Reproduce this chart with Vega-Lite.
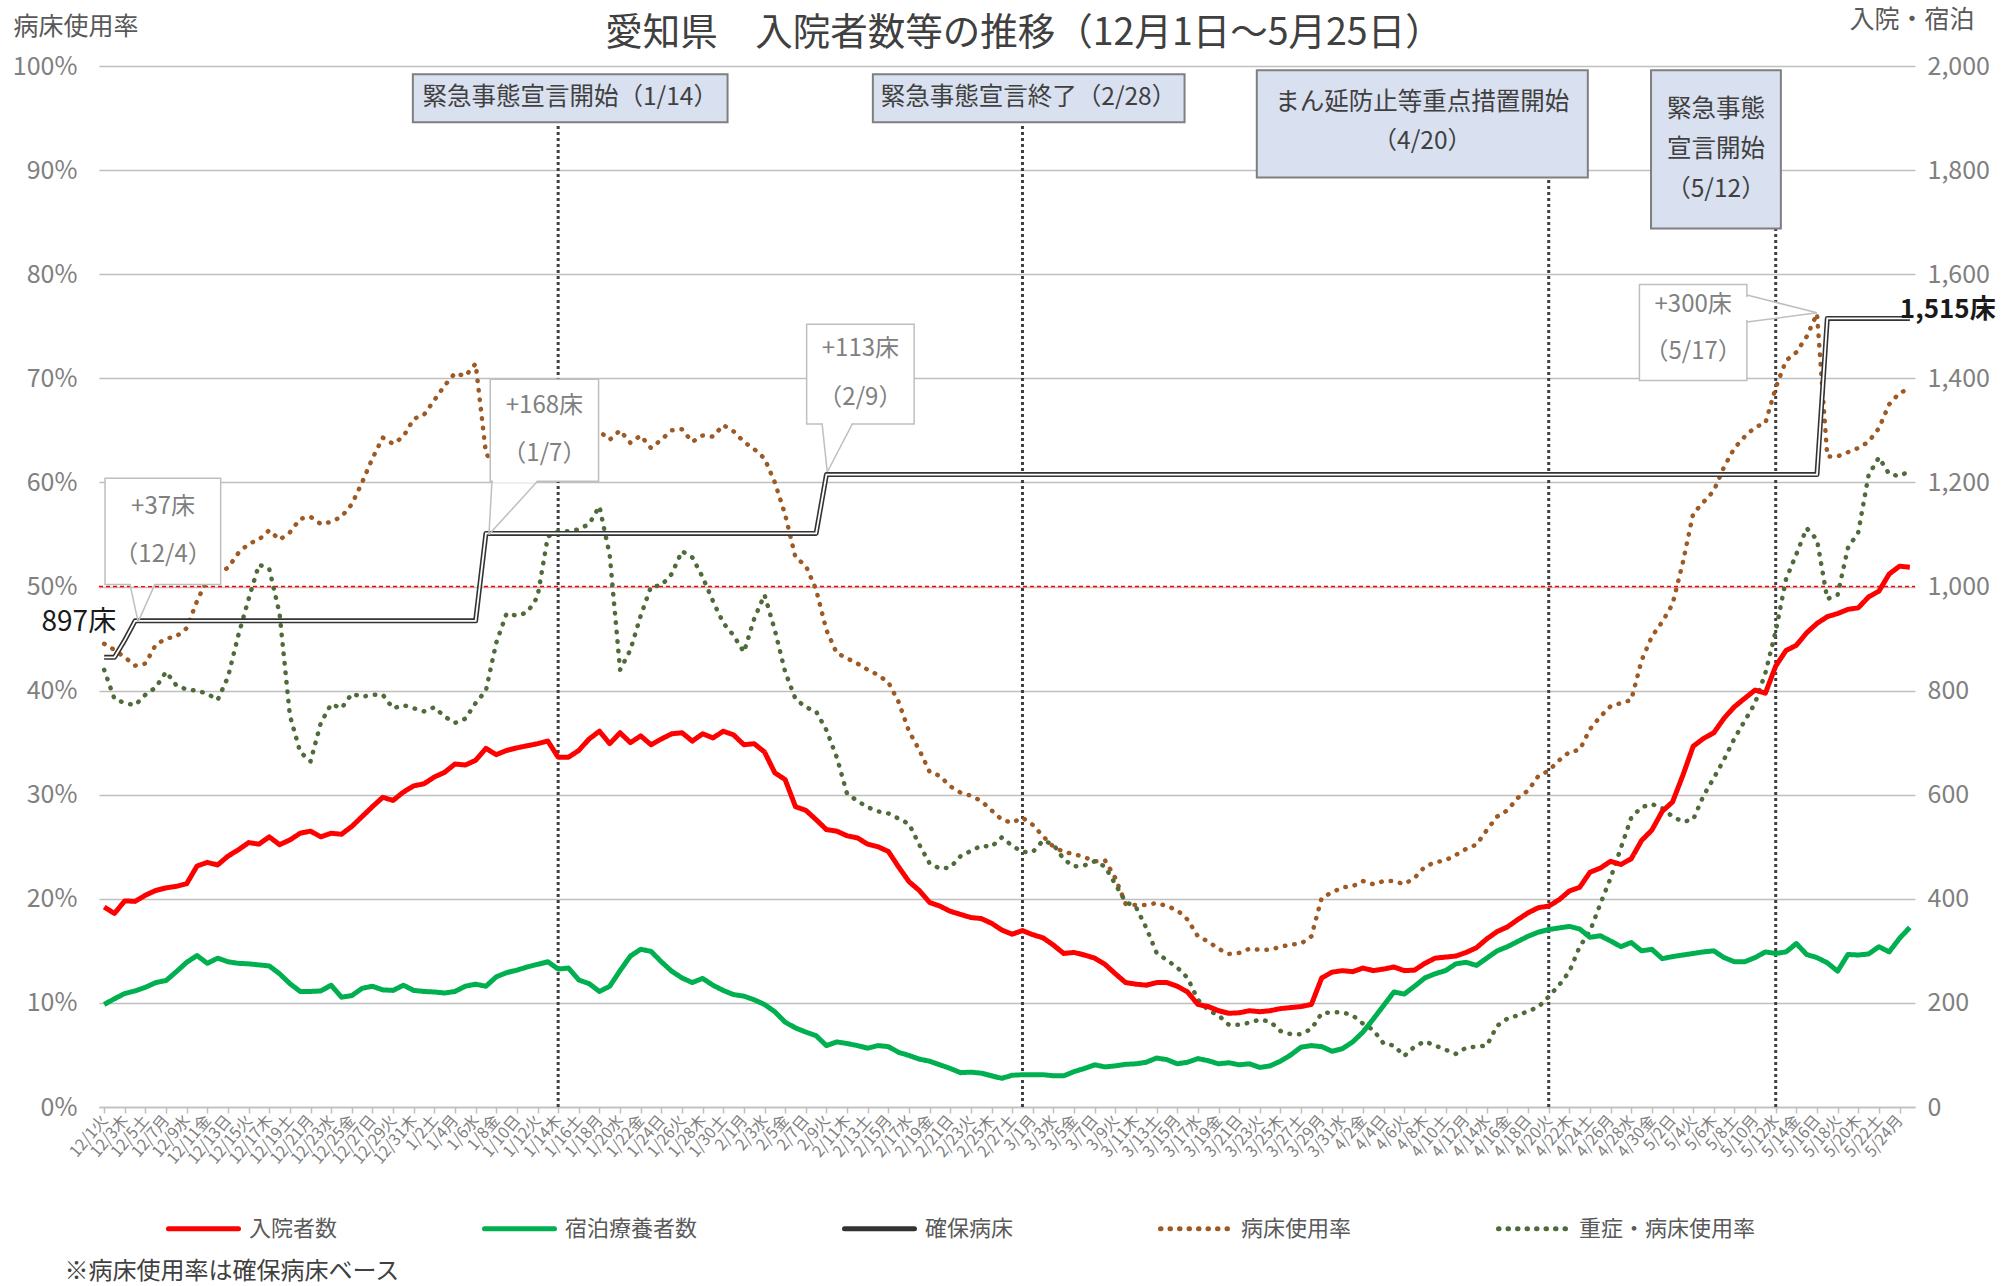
{
"$schema": "https://vega.github.io/schema/vega-lite/v6.json",
"width": 1816, "height": 1041,
"autosize": {"type": "none"},
"padding": {"left": 99, "top": 66, "right": 98, "bottom": 179},
"background": "white",
"title": {"text": "愛知県　入院者数等の推移（12月1日～5月25日）", "fontSize": 37.5, "color": "#404040", "fontWeight": "normal", "anchor": "middle", "offset": 0, "dx": 17, "dy": 45},
"datasets": {
"d": [
{"t":"2020-12-01","入院者数":384,"宿泊療養者数":197,"確保病床":864,"病床使用率":44.5,"重症・病床使用率":42.0},
{"t":"2020-12-02","入院者数":372,"宿泊療養者数":208,"確保病床":864,"病床使用率":43.9,"重症・病床使用率":39.2},
{"t":"2020-12-03","入院者数":396,"宿泊療養者数":218,"確保病床":897,"病床使用率":43.2,"重症・病床使用率":38.8},
{"t":"2020-12-04","入院者数":395,"宿泊療養者数":223,"確保病床":934,"病床使用率":42.4,"重症・病床使用率":38.6},
{"t":"2020-12-05","入院者数":407,"宿泊療養者数":230,"確保病床":934,"病床使用率":42.6,"重症・病床使用率":39.6},
{"t":"2020-12-06","入院者数":416,"宿泊療養者数":239,"確保病床":934,"病床使用率":44.4,"重症・病床使用率":40.3},
{"t":"2020-12-07","入院者数":421,"宿泊療養者数":243,"確保病床":934,"病床使用率":45.0,"重症・病床使用率":41.8},
{"t":"2020-12-08","入院者数":424,"宿泊療養者数":260,"確保病床":934,"病床使用率":45.2,"重症・病床使用率":40.5},
{"t":"2020-12-09","入院者数":429,"宿泊療養者数":278,"確保病床":934,"病床使用率":46.0,"重症・病床使用率":40.1},
{"t":"2020-12-10","入院者数":463,"宿泊療養者数":291,"確保病床":934,"病床使用率":48.6,"重症・病床使用率":40.0},
{"t":"2020-12-11","入院者数":470,"宿泊療養者数":276,"確保病床":934,"病床使用率":50.7,"重症・病床使用率":39.7},
{"t":"2020-12-12","入院者数":465,"宿泊療養者数":286,"確保病床":934,"病床使用率":51.3,"重症・病床使用率":39.1},
{"t":"2020-12-13","入院者数":482,"宿泊療養者数":279,"確保病床":934,"病床使用率":51.8,"重症・病床使用率":41.3},
{"t":"2020-12-14","入院者数":494,"宿泊療養者数":276,"確保病床":934,"病床使用率":53.2,"重症・病床使用率":45.3},
{"t":"2020-12-15","入院者数":508,"宿泊療養者数":275,"確保病床":934,"病床使用率":54.1,"重症・病床使用率":48.8},
{"t":"2020-12-16","入院者数":505,"宿泊療養者数":273,"確保病床":934,"病床使用率":54.5,"重症・病床使用率":52.1},
{"t":"2020-12-17","入院者数":519,"宿泊療養者数":271,"確保病床":934,"病床使用率":55.4,"重症・病床使用率":51.7},
{"t":"2020-12-18","入院者数":504,"宿泊療養者数":256,"確保病床":934,"病床使用率":54.5,"重症・病床使用率":47.4},
{"t":"2020-12-19","入院者数":513,"宿泊療養者数":237,"確保病床":934,"病床使用率":55.2,"重症・病床使用率":37.6},
{"t":"2020-12-20","入院者数":526,"宿泊療養者数":222,"確保病床":934,"病床使用率":56.5,"重症・病床使用率":34.1},
{"t":"2020-12-21","入院者数":530,"宿泊療養者数":222,"確保病床":934,"病床使用率":56.7,"重症・病床使用率":33.2},
{"t":"2020-12-22","入院者数":519,"宿泊療養者数":223,"確保病床":934,"病床使用率":56.0,"重症・病床使用率":36.9},
{"t":"2020-12-23","入院者数":526,"宿泊療養者数":234,"確保病床":934,"病床使用率":56.2,"重症・病床使用率":38.7},
{"t":"2020-12-24","入院者数":524,"宿泊療養者数":211,"確保病床":934,"病床使用率":56.7,"重症・病床使用率":38.3},
{"t":"2020-12-25","入院者数":539,"宿泊療養者数":214,"確保病床":934,"病床使用率":57.9,"重症・病床使用率":39.7},
{"t":"2020-12-26","入院者数":558,"宿泊療養者数":228,"確保病床":934,"病床使用率":60.0,"重症・病床使用率":39.4},
{"t":"2020-12-27","入院者数":577,"宿泊療養者数":232,"確保病床":934,"病床使用率":62.3,"重症・病床使用率":39.6},
{"t":"2020-12-28","入院者数":595,"宿泊療養者数":225,"確保病床":934,"病床使用率":64.3,"重症・病床使用率":39.6},
{"t":"2020-12-29","入院者数":589,"宿泊療養者数":224,"確保病床":934,"病床使用率":63.7,"重症・病床使用率":38.3},
{"t":"2020-12-30","入院者数":605,"宿泊療養者数":234,"確保病床":934,"病床使用率":64.4,"重症・病床使用率":38.6},
{"t":"2020-12-31","入院者数":617,"宿泊療養者数":224,"確保病床":934,"病床使用率":66.1,"重症・病床使用率":38.3},
{"t":"2021-01-01","入院者数":621,"宿泊療養者数":222,"確保病床":934,"病床使用率":66.5,"重症・病床使用率":38.0},
{"t":"2021-01-02","入院者数":634,"宿泊療養者数":221,"確保病床":934,"病床使用率":67.9,"重症・病床使用率":38.4},
{"t":"2021-01-03","入院者数":643,"宿泊療養者数":219,"確保病床":934,"病床使用率":69.3,"重症・病床使用率":37.5},
{"t":"2021-01-04","入院者数":659,"宿泊療養者数":222,"確保病床":934,"病床使用率":70.5,"重症・病床使用率":36.9},
{"t":"2021-01-05","入院者数":657,"宿泊療養者数":232,"確保病床":934,"病床使用率":70.2,"重症・病床使用率":37.3},
{"t":"2021-01-06","入院者数":666,"宿泊療養者数":236,"確保病床":934,"病床使用率":71.4,"重症・病床使用率":38.8},
{"t":"2021-01-07","入院者数":689,"宿泊療養者数":232,"確保病床":1102,"病床使用率":62.8,"重症・病床使用率":40.0},
{"t":"2021-01-08","入院者数":677,"宿泊療養者数":250,"確保病床":1102,"病床使用率":61.4,"重症・病床使用率":44.6},
{"t":"2021-01-09","入院者数":685,"宿泊療養者数":258,"確保病床":1102,"病床使用率":62.2,"重症・病床使用率":47.4},
{"t":"2021-01-10","入院者数":690,"宿泊療養者数":263,"確保病床":1102,"病床使用率":62.6,"重症・病床使用率":47.2},
{"t":"2021-01-11","入院者数":694,"宿泊療養者数":269,"確保病床":1102,"病床使用率":63.0,"重症・病床使用率":47.5},
{"t":"2021-01-12","入院者数":698,"宿泊療養者数":274,"確保病床":1102,"病床使用率":63.3,"重症・病床使用率":49.0},
{"t":"2021-01-13","入院者数":703,"宿泊療養者数":279,"確保病床":1102,"病床使用率":63.8,"重症・病床使用率":54.8},
{"t":"2021-01-14","入院者数":672,"宿泊療養者数":265,"確保病床":1102,"病床使用率":61.0,"重症・病床使用率":55.3},
{"t":"2021-01-15","入院者数":672,"宿泊療養者数":267,"確保病床":1102,"病床使用率":61.0,"重症・病床使用率":55.3},
{"t":"2021-01-16","入院者数":685,"宿泊療養者数":244,"確保病床":1102,"病床使用率":62.2,"重症・病床使用率":55.5},
{"t":"2021-01-17","入院者数":707,"宿泊療養者数":237,"確保病床":1102,"病床使用率":64.2,"重症・病床使用率":56.0},
{"t":"2021-01-18","入院者数":722,"宿泊療養者数":222,"確保病床":1102,"病床使用率":64.9,"重症・病床使用率":57.7},
{"t":"2021-01-19","入院者数":698,"宿泊療養者数":232,"確保病床":1102,"病床使用率":64.1,"重症・病床使用率":53.0},
{"t":"2021-01-20","入院者数":719,"宿泊療養者数":262,"確保病床":1102,"病床使用率":65.0,"重症・病床使用率":42.0},
{"t":"2021-01-21","入院者数":700,"宿泊療養者数":290,"確保病床":1102,"病床使用率":63.8,"重症・病床使用率":43.9},
{"t":"2021-01-22","入院者数":713,"宿泊療養者数":303,"確保病床":1102,"病床使用率":64.5,"重症・病床使用率":47.2},
{"t":"2021-01-23","入院者数":696,"宿泊療養者数":299,"確保病床":1102,"病床使用率":63.3,"重症・病床使用率":50.0},
{"t":"2021-01-24","入院者数":707,"宿泊療養者数":279,"確保病床":1102,"病床使用率":64.1,"重症・病床使用率":50.1},
{"t":"2021-01-25","入院者数":717,"宿泊療養者数":261,"確保病床":1102,"病床使用率":65.0,"重症・病床使用率":51.2},
{"t":"2021-01-26","入院者数":719,"宿泊療養者数":248,"確保病床":1102,"病床使用率":65.1,"重症・病床使用率":53.4},
{"t":"2021-01-27","入院者数":703,"宿泊療養者数":239,"確保病床":1102,"病床使用率":63.9,"重症・病床使用率":52.8},
{"t":"2021-01-28","入院者数":717,"宿泊療養者数":247,"確保病床":1102,"病床使用率":64.5,"重症・病床使用率":50.9},
{"t":"2021-01-29","入院者数":709,"宿泊療養者数":234,"確保病床":1102,"病床使用率":64.4,"重症・病床使用率":48.6},
{"t":"2021-01-30","入院者数":722,"宿泊療養者数":224,"確保病床":1102,"病床使用率":65.5,"重症・病床使用率":46.5},
{"t":"2021-01-31","入院者数":715,"宿泊療養者数":216,"確保病床":1102,"病床使用率":64.9,"重症・病床使用率":45.3},
{"t":"2021-02-01","入院者数":696,"宿泊療養者数":213,"確保病床":1102,"病床使用率":63.9,"重症・病床使用率":43.7},
{"t":"2021-02-02","入院者数":698,"宿泊療養者数":206,"確保病床":1102,"病床使用率":63.2,"重症・病床使用率":46.9},
{"t":"2021-02-03","入院者数":682,"宿泊療養者数":197,"確保病床":1102,"病床使用率":62.3,"重症・病床使用率":49.2},
{"t":"2021-02-04","入院者数":642,"宿泊療養者数":183,"確保病床":1102,"病床使用率":60.0,"重症・病床使用率":45.8},
{"t":"2021-02-05","入院者数":629,"宿泊療養者数":163,"確保病床":1102,"病床使用率":56.9,"重症・病床使用率":41.8},
{"t":"2021-02-06","入院者数":577,"宿泊療養者数":152,"確保病床":1102,"病床使用率":52.8,"重症・病床使用率":39.2},
{"t":"2021-02-07","入院者数":570,"宿泊療養者数":144,"確保病床":1102,"病床使用率":52.0,"重症・病床使用率":38.4},
{"t":"2021-02-08","入院者数":552,"宿泊療養者数":137,"確保病床":1102,"病床使用率":49.7,"重症・病床使用率":38.0},
{"t":"2021-02-09","入院者数":533,"宿泊療養者数":118,"確保病床":1215,"病床使用率":45.8,"重症・病床使用率":36.2},
{"t":"2021-02-10","入院者数":530,"宿泊療養者数":125,"確保病床":1215,"病床使用率":43.6,"重症・病床使用率":33.6},
{"t":"2021-02-11","入院者数":521,"宿泊療養者数":122,"確保病床":1215,"病床使用率":43.1,"重症・病床使用率":30.1},
{"t":"2021-02-12","入院者数":517,"宿泊療養者数":118,"確保病床":1215,"病床使用率":42.6,"重症・病床使用率":29.4},
{"t":"2021-02-13","入院者数":505,"宿泊療養者数":113,"確保病床":1215,"病床使用率":42.0,"重症・病床使用率":28.8},
{"t":"2021-02-14","入院者数":500,"宿泊療養者数":118,"確保病床":1215,"病床使用率":41.5,"重症・病床使用率":28.4},
{"t":"2021-02-15","入院者数":491,"宿泊療養者数":116,"確保病床":1215,"病床使用率":40.8,"重症・病床使用率":28.2},
{"t":"2021-02-16","入院者数":461,"宿泊療養者数":105,"確保病床":1215,"病床使用率":38.9,"重症・病床使用率":27.7},
{"t":"2021-02-17","入院者数":433,"宿泊療養者数":99,"確保病床":1215,"病床使用率":36.1,"重症・病床使用率":27.2},
{"t":"2021-02-18","入院者数":416,"宿泊療養者数":92,"確保病床":1215,"病床使用率":34.3,"重症・病床使用率":25.2},
{"t":"2021-02-19","入院者数":393,"宿泊療養者数":88,"確保病床":1215,"病床使用率":32.2,"重症・病床使用率":23.4},
{"t":"2021-02-20","入院者数":386,"宿泊療養者数":81,"確保病床":1215,"病床使用率":31.8,"重症・病床使用率":22.9},
{"t":"2021-02-21","入院者数":376,"宿泊療養者数":74,"確保病床":1215,"病床使用率":30.8,"重症・病床使用率":23.0},
{"t":"2021-02-22","入院者数":370,"宿泊療養者数":66,"確保病床":1215,"病床使用率":30.2,"重症・病床使用率":24.1},
{"t":"2021-02-23","入院者数":364,"宿泊療養者数":67,"確保病床":1215,"病床使用率":29.9,"重症・病床使用率":24.6},
{"t":"2021-02-24","入院者数":362,"宿泊療養者数":65,"確保病床":1215,"病床使用率":29.4,"重症・病床使用率":25.1},
{"t":"2021-02-25","入院者数":353,"宿泊療養者数":60,"確保病床":1215,"病床使用率":28.5,"重症・病床使用率":25.0},
{"t":"2021-02-26","入院者数":340,"宿泊療養者数":55,"確保病床":1215,"病床使用率":27.6,"重症・病床使用率":25.9},
{"t":"2021-02-27","入院者数":332,"宿泊療養者数":61,"確保病床":1215,"病床使用率":27.3,"重症・病床使用率":25.1},
{"t":"2021-02-28","入院者数":339,"宿泊療養者数":62,"確保病床":1215,"病床使用率":27.8,"重症・病床使用率":24.5},
{"t":"2021-03-01","入院者数":331,"宿泊療養者数":62,"確保病床":1215,"病床使用率":27.1,"重症・病床使用率":24.5},
{"t":"2021-03-02","入院者数":325,"宿泊療養者数":62,"確保病床":1215,"病床使用率":26.0,"重症・病床使用率":25.6},
{"t":"2021-03-03","入院者数":311,"宿泊療養者数":60,"確保病床":1215,"病床使用率":25.0,"重症・病床使用率":25.2},
{"t":"2021-03-04","入院者数":295,"宿泊療養者数":60,"確保病床":1215,"病床使用率":24.5,"重症・病床使用率":23.8},
{"t":"2021-03-05","入院者数":297,"宿泊療養者数":68,"確保病床":1215,"病床使用率":24.3,"重症・病床使用率":23.1},
{"t":"2021-03-06","入院者数":292,"宿泊療養者数":74,"確保病床":1215,"病床使用率":24.0,"重症・病床使用率":23.2},
{"t":"2021-03-07","入院者数":286,"宿泊療養者数":81,"確保病床":1215,"病床使用率":23.6,"重症・病床使用率":23.6},
{"t":"2021-03-08","入院者数":274,"宿泊療養者数":77,"確保病床":1215,"病床使用率":23.7,"重症・病床使用率":23.1},
{"t":"2021-03-09","入院者数":256,"宿泊療養者数":79,"確保病床":1215,"病床使用率":22.0,"重症・病床使用率":21.4},
{"t":"2021-03-10","入院者数":239,"宿泊療養者数":82,"確保病床":1215,"病床使用率":19.5,"重症・病床使用率":19.7},
{"t":"2021-03-11","入院者数":236,"宿泊療養者数":83,"確保病床":1215,"病床使用率":19.4,"重症・病床使用率":19.2},
{"t":"2021-03-12","入院者数":234,"宿泊療養者数":86,"確保病床":1215,"病床使用率":19.4,"重症・病床使用率":17.2},
{"t":"2021-03-13","入院者数":239,"宿泊療養者数":94,"確保病床":1215,"病床使用率":19.6,"重症・病床使用率":14.8},
{"t":"2021-03-14","入院者数":239,"宿泊療養者数":91,"確保病床":1215,"病床使用率":19.3,"重症・病床使用率":14.1},
{"t":"2021-03-15","入院者数":232,"宿泊療養者数":83,"確保病床":1215,"病床使用率":18.9,"重症・病床使用率":13.4},
{"t":"2021-03-16","入院者数":221,"宿泊療養者数":86,"確保病床":1215,"病床使用率":18.0,"重症・病床使用率":12.4},
{"t":"2021-03-17","入院者数":197,"宿泊療養者数":93,"確保病床":1215,"病床使用率":16.4,"重症・病床使用率":10.3},
{"t":"2021-03-18","入院者数":193,"宿泊療養者数":89,"確保病床":1215,"病床使用率":15.9,"重症・病床使用率":9.3},
{"t":"2021-03-19","入院者数":185,"宿泊療養者数":83,"確保病床":1215,"病床使用率":15.2,"重症・病床使用率":8.8},
{"t":"2021-03-20","入院者数":180,"宿泊療養者数":85,"確保病床":1215,"病床使用率":14.7,"重症・病床使用率":7.9},
{"t":"2021-03-21","入院者数":181,"宿泊療養者数":81,"確保病床":1215,"病床使用率":14.8,"重症・病床使用率":7.9},
{"t":"2021-03-22","入院者数":185,"宿泊療養者数":83,"確保病床":1215,"病床使用率":15.2,"重症・病床使用率":8.1},
{"t":"2021-03-23","入院者数":183,"宿泊療養者数":76,"確保病床":1215,"病床使用率":15.1,"重症・病床使用率":8.4},
{"t":"2021-03-24","入院者数":185,"宿泊療養者数":79,"確保病床":1215,"病床使用率":15.1,"重症・病床使用率":8.2},
{"t":"2021-03-25","入院者数":189,"宿泊療養者数":88,"確保病床":1215,"病床使用率":15.4,"重症・病床使用率":7.3},
{"t":"2021-03-26","入院者数":191,"宿泊療養者数":100,"確保病床":1215,"病床使用率":15.6,"重症・病床使用率":7.0},
{"t":"2021-03-27","入院者数":193,"宿泊療養者数":115,"確保病床":1215,"病床使用率":15.7,"重症・病床使用率":7.0},
{"t":"2021-03-28","入院者数":197,"宿泊療養者数":118,"確保病床":1215,"病床使用率":16.4,"重症・病床使用率":7.5},
{"t":"2021-03-29","入院者数":248,"宿泊療養者数":116,"確保病床":1215,"病床使用率":20.1,"重症・病床使用率":9.0},
{"t":"2021-03-30","入院者数":259,"宿泊療養者数":107,"確保病床":1215,"病床使用率":20.6,"重症・病床使用率":9.1},
{"t":"2021-03-31","入院者数":262,"宿泊療養者数":112,"確保病床":1215,"病床使用率":21.1,"重症・病床使用率":9.1},
{"t":"2021-04-01","入院者数":260,"宿泊療養者数":125,"確保病床":1215,"病床使用率":21.2,"重症・病床使用率":8.8},
{"t":"2021-04-02","入院者数":267,"宿泊療養者数":144,"確保病床":1215,"病床使用率":21.7,"重症・病床使用率":8.0},
{"t":"2021-04-03","入院者数":262,"宿泊療養者数":169,"確保病床":1215,"病床使用率":21.4,"重症・病床使用率":7.4},
{"t":"2021-04-04","入院者数":265,"宿泊療養者数":195,"確保病床":1215,"病床使用率":21.7,"重症・病床使用率":6.1},
{"t":"2021-04-05","入院者数":269,"宿泊療養者数":221,"確保病床":1215,"病床使用率":21.7,"重症・病床使用率":5.9},
{"t":"2021-04-06","入院者数":262,"宿泊療養者数":217,"確保病床":1215,"病床使用率":21.4,"重症・病床使用率":4.9},
{"t":"2021-04-07","入院者数":263,"宿泊療養者数":232,"確保病床":1215,"病床使用率":22.0,"重症・病床使用率":5.8},
{"t":"2021-04-08","入院者数":276,"宿泊療養者数":248,"確保病床":1215,"病床使用率":23.1,"重症・病床使用率":6.3},
{"t":"2021-04-09","入院者数":286,"宿泊療養者数":256,"確保病床":1215,"病床使用率":23.5,"重症・病床使用率":5.9},
{"t":"2021-04-10","入院者数":288,"宿泊療養者数":262,"確保病床":1215,"病床使用率":23.7,"重症・病床使用率":5.5},
{"t":"2021-04-11","入院者数":290,"宿泊療養者数":275,"確保病床":1215,"病床使用率":24.2,"重症・病床使用率":5.1},
{"t":"2021-04-12","入院者数":297,"宿泊療養者数":278,"確保病床":1215,"病床使用率":24.8,"重症・病床使用率":5.7},
{"t":"2021-04-13","入院者数":306,"宿泊療養者数":272,"確保病床":1215,"病床使用率":25.2,"重症・病床使用率":5.8},
{"t":"2021-04-14","入院者数":323,"宿泊療養者数":286,"確保病床":1215,"病床使用率":26.6,"重症・病床使用率":5.9},
{"t":"2021-04-15","入院者数":337,"宿泊療養者数":300,"確保病床":1215,"病床使用率":27.9,"重症・病床使用率":7.8},
{"t":"2021-04-16","入院者数":346,"宿泊療養者数":308,"確保病床":1215,"病床使用率":28.5,"重症・病床使用率":8.5},
{"t":"2021-04-17","入院者数":360,"宿泊療養者数":318,"確保病床":1215,"病床使用率":29.7,"重症・病床使用率":8.8},
{"t":"2021-04-18","入院者数":373,"宿泊療養者数":328,"確保病床":1215,"病床使用率":30.4,"重症・病床使用率":9.2},
{"t":"2021-04-19","入院者数":383,"宿泊療養者数":336,"確保病床":1215,"病床使用率":31.8,"重症・病床使用率":9.6},
{"t":"2021-04-20","入院者数":386,"宿泊療養者数":341,"確保病床":1215,"病床使用率":32.3,"重症・病床使用率":10.6},
{"t":"2021-04-21","入院者数":398,"宿泊療養者数":344,"確保病床":1215,"病床使用率":33.3,"重症・病床使用率":11.7},
{"t":"2021-04-22","入院者数":415,"宿泊療養者数":347,"確保病床":1215,"病床使用率":34.1,"重症・病床使用率":13.0},
{"t":"2021-04-23","入院者数":422,"宿泊療養者数":342,"確保病床":1215,"病床使用率":34.3,"重症・病床使用率":15.4},
{"t":"2021-04-24","入院者数":451,"宿泊療養者数":326,"確保病床":1215,"病床使用率":36.3,"重症・病床使用率":16.9},
{"t":"2021-04-25","入院者数":459,"宿泊療養者数":329,"確保病床":1215,"病床使用率":37.5,"重症・病床使用率":19.5},
{"t":"2021-04-26","入院者数":472,"宿泊療養者数":319,"確保病床":1215,"病床使用率":38.5,"重症・病床使用率":22.0},
{"t":"2021-04-27","入院者数":466,"宿泊療養者数":308,"確保病床":1215,"病床使用率":38.8,"重症・病床使用率":24.9},
{"t":"2021-04-28","入院者数":477,"宿泊療養者数":316,"確保病床":1215,"病床使用率":39.1,"重症・病床使用率":27.8},
{"t":"2021-04-29","入院者数":512,"宿泊療養者数":300,"確保病床":1215,"病床使用率":42.9,"重症・病床使用率":28.8},
{"t":"2021-04-30","入院者数":532,"宿泊療養者数":303,"確保病床":1215,"病床使用率":45.2,"重症・病床使用率":29.1},
{"t":"2021-05-01","入院者数":568,"宿泊療養者数":285,"確保病床":1215,"病床使用率":46.6,"重症・病床使用率":28.7},
{"t":"2021-05-02","入院者数":586,"宿泊療養者数":289,"確保病床":1215,"病床使用率":48.3,"重症・病床使用率":27.9},
{"t":"2021-05-03","入院者数":637,"宿泊療養者数":292,"確保病床":1215,"病床使用率":52.3,"重症・病床使用率":27.4},
{"t":"2021-05-04","入院者数":693,"宿泊療養者数":295,"確保病床":1215,"病床使用率":57.0,"重症・病床使用率":27.6},
{"t":"2021-05-05","入院者数":708,"宿泊療養者数":298,"確保病床":1215,"病床使用率":58.1,"重症・病床使用率":29.9},
{"t":"2021-05-06","入院者数":719,"宿泊療養者数":300,"確保病床":1215,"病床使用率":59.2,"重症・病床使用率":31.6},
{"t":"2021-05-07","入院者数":747,"宿泊療養者数":287,"確保病床":1215,"病床使用率":61.5,"重症・病床使用率":33.4},
{"t":"2021-05-08","入院者数":769,"宿泊療養者数":279,"確保病床":1215,"病床使用率":63.3,"重症・病床使用率":35.4},
{"t":"2021-05-09","入院者数":785,"宿泊療養者数":279,"確保病床":1215,"病床使用率":64.4,"重症・病床使用率":37.1},
{"t":"2021-05-10","入院者数":801,"宿泊療養者数":287,"確保病床":1215,"病床使用率":65.3,"重症・病床使用率":38.8},
{"t":"2021-05-11","入院者数":795,"宿泊療養者数":298,"確保病床":1215,"病床使用率":65.7,"重症・病床使用率":41.7},
{"t":"2021-05-12","入院者数":847,"宿泊療養者数":295,"確保病床":1215,"病床使用率":69.1,"重症・病床使用率":45.7},
{"t":"2021-05-13","入院者数":877,"宿泊療養者数":298,"確保病床":1215,"病床使用率":71.7,"重症・病床使用率":50.7},
{"t":"2021-05-14","入院者数":887,"宿泊療養者数":314,"確保病床":1215,"病床使用率":72.5,"重症・病床使用率":53.1},
{"t":"2021-05-15","入院者数":911,"宿泊療養者数":293,"確保病床":1215,"病床使用率":74.0,"重症・病床使用率":55.6},
{"t":"2021-05-16","入院者数":929,"宿泊療養者数":287,"確保病床":1215,"病床使用率":76.2,"重症・病床使用率":54.5},
{"t":"2021-05-17","入院者数":942,"宿泊療養者数":277,"確保病床":1515,"病床使用率":62.5,"重症・病床使用率":48.8},
{"t":"2021-05-18","入院者数":948,"宿泊療養者数":261,"確保病床":1515,"病床使用率":62.5,"重症・病床使用率":49.2},
{"t":"2021-05-19","入院者数":956,"宿泊療養者数":293,"確保病床":1515,"病床使用率":62.9,"重症・病床使用率":53.7},
{"t":"2021-05-20","入院者数":959,"宿泊療養者数":292,"確保病床":1515,"病床使用率":63.3,"重症・病床使用率":55.2},
{"t":"2021-05-21","入院者数":980,"宿泊療養者数":294,"確保病床":1515,"病床使用率":63.9,"重症・病床使用率":60.7},
{"t":"2021-05-22","入院者数":991,"宿泊療養者数":308,"確保病床":1515,"病床使用率":65.2,"重症・病床使用率":62.4},
{"t":"2021-05-23","入院者数":1024,"宿泊療養者数":298,"確保病床":1515,"病床使用率":67.5,"重症・病床使用率":60.8},
{"t":"2021-05-24","入院者数":1039,"宿泊療養者数":324,"確保病床":1515,"病床使用率":68.6,"重症・病床使用率":60.6},
{"t":"2021-05-25","入院者数":1037,"宿泊療養者数":345,"確保病床":1515,"病床使用率":69.0,"重症・病床使用率":61.1}
],
"full": [{"t":"2020-11-30T12:00:00Z","t2":"2021-05-25T12:00:00Z","v":50}],
"evline": [
{"t":"2021-01-14","v":0,"v2":94.6},
{"t":"2021-02-28","v":0,"v2":94.6},
{"t":"2021-04-20","v":0,"v2":89.3},
{"t":"2021-05-12","v":0,"v2":84.4}
],
"evbox": [
{"t":"2020-12-30T22:00:00Z","t2":"2021-01-30T10:00:00Z","v":99.2,"v2":94.6},
{"t":"2021-02-13T12:00:00Z","t2":"2021-03-15T17:00:00Z","v":99.2,"v2":94.6},
{"t":"2021-03-22T17:00:00Z","t2":"2021-04-23T19:00:00Z","v":99.6,"v2":89.3},
{"t":"2021-04-29T22:00:00Z","t2":"2021-05-12T12:00:00Z","v":99.6,"v2":84.4}
],
"evtxt": [
{"t":"2021-01-15T04:00:00Z","v":96.9,"label":"緊急事態宣言開始（1/14）"},
{"t":"2021-02-28T14:00:00Z","v":96.9,"label":"緊急事態宣言終了（2/28）"},
{"t":"2021-04-07T18:00:00Z","v":96.4,"label":"まん延防止等重点措置開始"},
{"t":"2021-04-07T18:00:00Z","v":92.7,"label":"（4/20）"},
{"t":"2021-05-06T05:00:00Z","v":95.8,"label":"緊急事態"},
{"t":"2021-05-06T05:00:00Z","v":91.9,"label":"宣言開始"},
{"t":"2021-05-06T05:00:00Z","v":88.1,"label":"（5/12）"}
],
"cobox": [
{"t":"2020-12-01T02:00:00Z","t2":"2020-12-12T07:00:00Z","v":60.4,"v2":50.2},
{"t":"2021-01-07T10:00:00Z","t2":"2021-01-17T22:00:00Z","v":69.9,"v2":60.1},
{"t":"2021-02-07T02:00:00Z","t2":"2021-02-17T12:00:00Z","v":75.2,"v2":65.6},
{"t":"2021-04-28T19:00:00Z","t2":"2021-05-09T05:00:00Z","v":79.0,"v2":69.8}
],
"cover": [
{"t":"2020-12-03T14:00:00Z","t2":"2020-12-05T20:00:00Z","v":50.2,"v2":50.2},
{"t":"2021-01-07T16:00:00Z","t2":"2021-01-11T22:00:00Z","v":60.1,"v2":60.1},
{"t":"2021-02-08T16:00:00Z","t2":"2021-02-11T10:00:00Z","v":65.6,"v2":65.6},
{"t":"2021-05-09T05:00:00Z","t2":"2021-05-09T05:00:00Z","v":77.8,"v2":75.6}
],
"ptr": [
{"t":"2020-12-03T12:00:00Z","v":50.2,"t2":"2020-12-04T07:00:00Z","v2":46.6},
{"t":"2020-12-05T22:00:00Z","v":50.2,"t2":"2020-12-04T07:00:00Z","v2":46.6},
{"t":"2021-01-07T14:00:00Z","v":60.1,"t2":"2021-01-07T07:00:00Z","v2":55.0},
{"t":"2021-01-12T00:00:00Z","v":60.1,"t2":"2021-01-07T07:00:00Z","v2":55.0},
{"t":"2021-02-08T14:00:00Z","v":65.6,"t2":"2021-02-09T02:00:00Z","v2":61.0},
{"t":"2021-02-11T12:00:00Z","v":65.6,"t2":"2021-02-09T02:00:00Z","v2":61.0},
{"t":"2021-05-09T05:00:00Z","v":78.0,"t2":"2021-05-16T00:00:00Z","v2":76.3},
{"t":"2021-05-09T05:00:00Z","v":75.4,"t2":"2021-05-16T00:00:00Z","v2":76.3}
],
"cotxt": [
{"t":"2020-12-06T17:00:00Z","v":57.6,"label":"+37床"},
{"t":"2020-12-06T17:00:00Z","v":53.0,"label":"（12/4）"},
{"t":"2021-01-12T16:00:00Z","v":67.3,"label":"+168床"},
{"t":"2021-01-12T16:00:00Z","v":62.7,"label":"（1/7）"},
{"t":"2021-02-12T07:00:00Z","v":72.8,"label":"+113床"},
{"t":"2021-02-12T07:00:00Z","v":68.1,"label":"（2/9）"},
{"t":"2021-05-04T00:00:00Z","v":77.0,"label":"+300床"},
{"t":"2021-05-04T00:00:00Z","v":72.5,"label":"（5/17）"}
],
"lblL": [{"t":"2020-12-01","v":46.5,"label":"897床"}],
"lblR": [{"t":"2021-05-25","v":76.6,"label":"1,515床"}]
},
"encoding": {
"x": {"field": "t", "type": "temporal",
 "scale": {"type": "utc", "domain": [1606737600000, 1621944000000]},
 "axis": {
  "values": [1606780800000,1606953600000,1607126400000,1607299200000,1607472000000,1607644800000,1607817600000,1607990400000,1608163200000,1608336000000,1608508800000,1608681600000,1608854400000,1609027200000,1609200000000,1609372800000,1609545600000,1609718400000,1609891200000,1610064000000,1610236800000,1610409600000,1610582400000,1610755200000,1610928000000,1611100800000,1611273600000,1611446400000,1611619200000,1611792000000,1611964800000,1612137600000,1612310400000,1612483200000,1612656000000,1612828800000,1613001600000,1613174400000,1613347200000,1613520000000,1613692800000,1613865600000,1614038400000,1614211200000,1614384000000,1614556800000,1614729600000,1614902400000,1615075200000,1615248000000,1615420800000,1615593600000,1615766400000,1615939200000,1616112000000,1616284800000,1616457600000,1616630400000,1616803200000,1616976000000,1617148800000,1617321600000,1617494400000,1617667200000,1617840000000,1618012800000,1618185600000,1618358400000,1618531200000,1618704000000,1618876800000,1619049600000,1619222400000,1619395200000,1619568000000,1619740800000,1619913600000,1620086400000,1620259200000,1620432000000,1620604800000,1620777600000,1620950400000,1621123200000,1621296000000,1621468800000,1621641600000,1621814400000],
  "labelExpr": "utcFormat(datum.value, '%-m/%-d') + ['日','月','火','水','木','金','土'][utcday(datum.value)]",
  "labelAngle": -50, "labelAlign": "right", "labelBaseline": "middle",
  "labelFontSize": 16, "labelColor": "#808080", "labelPadding": 4,
  "labelOverlap": false, "labelFlush": false, "labelBound": false,
  "ticks": true, "tickSize": 6, "tickColor": "#BFBFBF", "tickWidth": 1.5,
  "domain": true, "domainColor": "#BFBFBF", "domainWidth": 1.5, "grid": false,
  "title": "※病床使用率は確保病床ベース", "titleX": -35, "titleY": 164, "titleAlign": "left",
  "titleBaseline": "middle", "titleAngle": 0, "titleFontSize": 24, "titleFontWeight": "normal", "titleColor": "#404040"
 }
}
},
"layer": [
{
 "encoding": {"y": {"field": "v", "type": "quantitative", "scale": {"domain": [0, 100]},
  "axis": {"orient": "left", "values": [0,10,20,30,40,50,60,70,80,90,100], "labelExpr": "datum.value + '%'",
   "labelFontSize": 25, "labelColor": "#808080", "labelPadding": 22, "ticks": false, "domain": false,
   "grid": true, "gridColor": "#BFBFBF", "gridWidth": 1.5,
   "title": "病床使用率", "titleX": -86, "titleY": -40, "titleAngle": 0, "titleAlign": "left",
   "titleBaseline": "middle", "titleFontSize": 25, "titleFontWeight": "normal", "titleColor": "#595959"}}},
 "layer": [
  {"data": {"name": "full"}, "mark": {"type": "rule", "color": "#FF0000", "strokeWidth": 1.5, "strokeDash": [4, 3]},
   "encoding": {"x2": {"field": "t2"}}},
  {"data": {"name": "evline"}, "mark": {"type": "rule", "color": "#404040", "strokeWidth": 3, "strokeDash": [3, 3]},
   "encoding": {"y2": {"field": "v2"}}},
  {"data": {"name": "d"},
   "transform": [{"fold": ["病床使用率", "重症・病床使用率"], "as": ["key", "v"]}],
   "mark": {"type": "line", "strokeWidth": 4.5, "strokeCap": "round", "strokeJoin": "round"},
   "encoding": {
    "color": {"field": "key", "type": "nominal",
     "scale": {"domain": ["入院者数","宿泊療養者数","確保病床","病床使用率","重症・病床使用率"], "range": ["#FF0000","#00B050","#333333","#9E5A24","#4F6B3A"]},
     "legend": {"title": null, "orient": "none", "legendX": 67, "legendY": 1125, "direction": "horizontal", "columnPadding": 136,
      "symbolType": "stroke", "symbolSize": 4900, "symbolStrokeWidth": 5, "labelFontSize": 22, "labelColor": "#595959",
      "labelOffset": 8, "labelLimit": 400, "encode": {"symbols": {"update": {"strokeCap": {"value": "round"}}}}}},
    "strokeDash": {"field": "key", "type": "nominal",
     "scale": {"domain": ["入院者数","宿泊療養者数","確保病床","病床使用率","重症・病床使用率"], "range": [[1,0],[1,0],[1,0],[0.5,9],[0.5,9]]},
     "legend": {"title": null, "orient": "none", "legendX": 67, "legendY": 1125, "direction": "horizontal", "columnPadding": 136,
      "symbolType": "stroke", "symbolSize": 4900, "symbolStrokeWidth": 5, "labelFontSize": 22, "labelColor": "#595959",
      "labelOffset": 8, "labelLimit": 400, "encode": {"symbols": {"update": {"strokeCap": {"value": "round"}}}}}}
   }}
 ]
},
{
 "data": {"name": "d"},
 "encoding": {"y": {"field": "n", "type": "quantitative", "scale": {"domain": [0, 2000]},
  "axis": {"orient": "right", "values": [0,200,400,600,800,1000,1200,1400,1600,1800,2000], "format": ",d",
   "labelFontSize": 25, "labelColor": "#808080", "labelPadding": 12, "ticks": false, "domain": false, "grid": false,
   "title": "入院・宿泊", "titleX": -66, "titleY": -47, "titleAngle": 0, "titleAlign": "left",
   "titleBaseline": "middle", "titleFontSize": 25, "titleFontWeight": "normal", "titleColor": "#595959"}}},
 "layer": [
  {"transform": [{"fold": ["入院者数", "宿泊療養者数", "確保病床"], "as": ["key", "n"]}],
   "mark": {"type": "line", "strokeWidth": 5, "strokeJoin": "round"},
   "encoding": {
    "color": {"field": "key", "type": "nominal",
     "scale": {"domain": ["入院者数","宿泊療養者数","確保病床","病床使用率","重症・病床使用率"], "range": ["#FF0000","#00B050","#333333","#9E5A24","#4F6B3A"]},
     "legend": {"title": null, "orient": "none", "legendX": 67, "legendY": 1125, "direction": "horizontal", "columnPadding": 136,
      "symbolType": "stroke", "symbolSize": 4900, "symbolStrokeWidth": 5, "labelFontSize": 22, "labelColor": "#595959",
      "labelOffset": 8, "labelLimit": 400, "encode": {"symbols": {"update": {"strokeCap": {"value": "round"}}}}}},
    "strokeDash": {"field": "key", "type": "nominal",
     "scale": {"domain": ["入院者数","宿泊療養者数","確保病床","病床使用率","重症・病床使用率"], "range": [[1,0],[1,0],[1,0],[0.5,9],[0.5,9]]},
     "legend": {"title": null, "orient": "none", "legendX": 67, "legendY": 1125, "direction": "horizontal", "columnPadding": 136,
      "symbolType": "stroke", "symbolSize": 4900, "symbolStrokeWidth": 5, "labelFontSize": 22, "labelColor": "#595959",
      "labelOffset": 8, "labelLimit": 400, "encode": {"symbols": {"update": {"strokeCap": {"value": "round"}}}}}}
   }},
  {"transform": [{"fold": ["確保病床"], "as": ["key", "n"]}],
   "mark": {"type": "line", "strokeWidth": 1.8, "color": "white"},
   "encoding": {}}
 ]
},
{
 "encoding": {"y": {"field": "v", "type": "quantitative", "scale": {"domain": [0, 100]}, "axis": null}},
 "layer": [
  {"data": {"name": "evbox"}, "mark": {"type": "rect", "fill": "#D9E0F0", "stroke": "#7F7F7F", "strokeWidth": 2},
   "encoding": {"x2": {"field": "t2"}, "y2": {"field": "v2"}}},
  {"data": {"name": "cobox"}, "mark": {"type": "rect", "fill": "white", "stroke": "#BFBFBF", "strokeWidth": 1.5},
   "encoding": {"x2": {"field": "t2"}, "y2": {"field": "v2"}}},
  {"data": {"name": "cover"}, "mark": {"type": "rule", "color": "white", "strokeWidth": 3},
   "encoding": {"x2": {"field": "t2"}, "y2": {"field": "v2"}}},
  {"data": {"name": "ptr"}, "mark": {"type": "rule", "color": "#BFBFBF", "strokeWidth": 1.5},
   "encoding": {"x2": {"field": "t2"}, "y2": {"field": "v2"}}},
  {"data": {"name": "evtxt"}, "mark": {"type": "text", "fontSize": 24.5, "color": "#404040", "align": "center", "baseline": "middle"},
   "encoding": {"text": {"field": "label"}}},
  {"data": {"name": "cotxt"}, "mark": {"type": "text", "fontSize": 24, "color": "#808080", "align": "center", "baseline": "middle"},
   "encoding": {"text": {"field": "label"}}},
  {"data": {"name": "lblL"}, "mark": {"type": "text", "fontSize": 28, "color": "#1A1A1A", "align": "right", "baseline": "middle", "dx": 12},
   "encoding": {"text": {"field": "label"}}},
  {"data": {"name": "lblR"}, "mark": {"type": "text", "fontSize": 26, "fontWeight": "bold", "color": "#1A1A1A", "align": "left", "baseline": "middle", "dx": -10},
   "encoding": {"text": {"field": "label"}}}
 ]
}
],
"resolve": {"scale": {"y": "independent"}},
"config": {
 "font": "Noto Sans CJK JP",
 "view": {"stroke": null},
 "axis": {"labelFont": "Noto Sans CJK JP", "titleFont": "Noto Sans CJK JP"},
 "legend": {"labelFont": "Noto Sans CJK JP"},
 "title": {"font": "Noto Sans CJK JP"},
 "text": {"font": "Noto Sans CJK JP"}
}
}
